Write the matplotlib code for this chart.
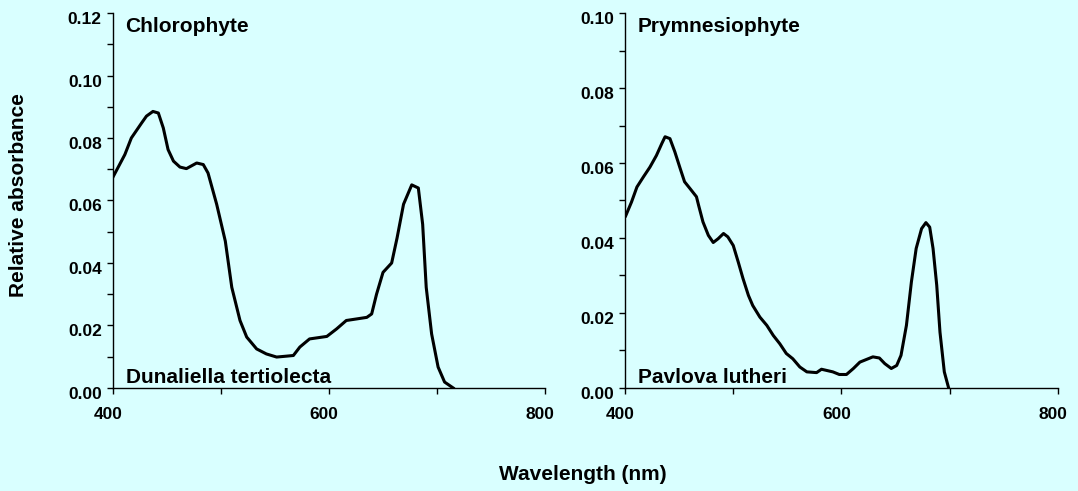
import numpy as np
import matplotlib.pyplot as plt
from matplotlib.ticker import MultipleLocator, FormatStrFormatter
from matplotlib.transforms import ScaledTranslation

plt.rcParams['font.family'] = ['Liberation Sans', 'DejaVu Sans']
plt.rcParams['font.weight'] = 'bold'

bg = '#d9ffff'

# Chlorophyte: Dunaliella tertiolecta
wl_chl = [400, 411, 417, 426.5, 431, 437, 442, 446.6, 451, 456, 462, 468, 477.5, 483.6,
          488, 496, 504, 510, 517.6, 523.8, 533, 542, 551.5, 561, 567, 573, 582, 598,
          607, 616, 625.6, 635, 639.5, 644, 650, 658, 663, 669, 676.6, 682.7, 686.7,
          690, 695, 701, 707, 715]
abs_chl = [0.0675, 0.0747, 0.080, 0.0848, 0.087, 0.0885, 0.088, 0.0832, 0.0763, 0.0726,
           0.0707, 0.0702, 0.072, 0.0715, 0.0688, 0.0588, 0.047, 0.0322, 0.0216, 0.0163,
           0.0125, 0.0109, 0.0099, 0.0102, 0.0104, 0.0131, 0.0157, 0.0165, 0.0189, 0.0216,
           0.0221, 0.0226, 0.0237, 0.030, 0.037, 0.040, 0.048, 0.0588, 0.065, 0.064,
           0.0524, 0.0322, 0.0173, 0.0067, 0.0019, 0.0]

# Prymnesiophyte: Pavlova lutheri
wl_pry = [400.6, 406, 411, 417, 423, 429, 434, 437, 441.5, 446, 451, 455, 460, 466, 468,
          472, 477, 481.5, 486, 491, 495, 500, 504.6, 509, 514, 518, 524.6, 531, 537, 543,
          549, 555, 561.5, 568, 577, 581.5, 586, 592, 598, 604.6, 611, 617, 623, 629, 635,
          640, 646, 651, 655, 660, 664.6, 669, 674, 678, 681.5, 684.6, 688, 691, 695, 699]
abs_pry = [0.0459, 0.0496, 0.0536, 0.0563, 0.0589, 0.062, 0.0652, 0.067, 0.0665, 0.063,
           0.0585, 0.055, 0.0532, 0.051, 0.0487, 0.0443, 0.0407, 0.0388, 0.0398, 0.0412,
           0.0403, 0.038, 0.0336, 0.0292, 0.0247, 0.022, 0.0189, 0.0167, 0.014, 0.0118,
           0.0092, 0.0078, 0.0056, 0.0043, 0.0041, 0.005, 0.0047, 0.0043, 0.0036, 0.0036,
           0.0052, 0.0069, 0.0076, 0.0083, 0.008, 0.0065, 0.0052, 0.006, 0.0087, 0.0167,
           0.0283, 0.0372, 0.0425, 0.0441, 0.0429, 0.0372, 0.0274, 0.0149, 0.0043, 0.0]

fig = plt.figure(figsize=(10.78, 4.91), dpi=100, facecolor=bg)
ax1 = fig.add_axes([0.1048, 0.2098, 0.4008, 0.7637])
ax2 = fig.add_axes([0.5798, 0.2098, 0.4016, 0.7637])

panels = [
    (ax1, wl_chl, abs_chl, 0.12, 'Chlorophyte', 'Dunaliella tertiolecta'),
    (ax2, wl_pry, abs_pry, 0.10, 'Prymnesiophyte', 'Pavlova lutheri'),
]

# small shifts of the tick labels (labels sit a bit left / low in the original)
x_shift = ScaledTranslation(-5 / 100, 0, fig.dpi_scale_trans)
y_shift = ScaledTranslation(0, -5 / 100, fig.dpi_scale_trans)

for ax, wl, a, ymax, top_txt, bot_txt in panels:
    ax.set_facecolor(bg)
    ax.plot(wl, a, color='black', lw=2.2)
    ax.set_xlim(400, 800)
    ax.set_ylim(0, ymax)
    for s in ['top', 'right']:
        ax.spines[s].set_visible(False)
    for s in ['left', 'bottom']:
        ax.spines[s].set_linewidth(1.0)
    ax.set_xticks([400, 600, 800])
    ax.xaxis.set_minor_locator(MultipleLocator(100))
    ax.set_yticks(np.arange(0, ymax + 0.001, 0.02))
    ax.yaxis.set_minor_locator(MultipleLocator(0.01))
    ax.yaxis.set_major_formatter(FormatStrFormatter('%.2f'))
    ax.tick_params(which='both', direction='out', length=4, width=1, labelsize=12.5)
    ax.tick_params(axis='x', pad=10)
    ax.tick_params(axis='y', pad=4)
    for t in ax.xaxis.get_major_ticks():
        t.label1.set_transform(t.label1.get_transform() + x_shift)
    for t in ax.yaxis.get_major_ticks():
        t.label1.set_transform(t.label1.get_transform() + y_shift)
    ax.text(0.028, 0.99, top_txt, transform=ax.transAxes, fontsize=15,
            fontweight='bold', va='top', ha='left')
    ax.text(0.03, 0.014, bot_txt, transform=ax.transAxes, fontsize=15,
            fontweight='bold', va='baseline', ha='left')

fig.text(0.017, 0.603, 'Relative absorbance', rotation=90, fontsize=15,
         fontweight='bold', ha='center', va='center')
fig.text(0.541, 0.033, 'Wavelength (nm)', fontsize=15, fontweight='bold',
         ha='center', va='center')

fig.savefig('out.png', dpi=100, facecolor=bg)
